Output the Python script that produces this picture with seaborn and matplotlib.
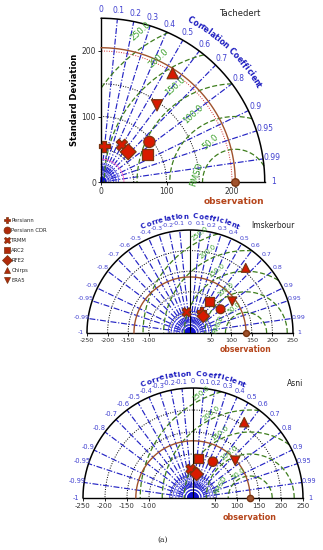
import numpy as np
import pandas as pd
import matplotlib
matplotlib.use('Agg')
import matplotlib.pyplot as plt
import seaborn as sns
from matplotlib.lines import Line2D

sns.set_theme(style='white')
plt.rcParams['font.family'] = ['DejaVu Sans']

W, H = 323, 550

# ---------------- data ----------------
models = ['Persiann', 'Persiann CDR', 'TRMM', 'ARC2', 'RFE2', 'Chirps', 'ERA5']
model_markers = ['P', 'o', 'X', 's', 'D', '^', 'v']

tach_std = [55, 96, 65, 82, 62, 199, 145]
tach_corr = [0.09, 0.77, 0.49, 0.86, 0.67, 0.55, 0.59]
tach_obs = 205

imsk_std = [59, 94, 51, 90, 52, 208, 128]
imsk_corr = [0.47, 0.79, -0.16, 0.53, 0.62, 0.65, 0.80]
imsk_obs = 136

asni_std = [60, 94, 66, 91, 55, 208, 128]
asni_corr = [0.05, 0.48, -0.08, 0.13, 0.15, 0.56, 0.75]
asni_obs = 130

corr_ticks_quarter = [0, 0.1, 0.2, 0.3, 0.4, 0.5, 0.6, 0.7, 0.8, 0.9, 0.95, 0.99, 1]
corr_ticks_half = [-1, -0.99, -0.95, -0.9, -0.8, -0.7, -0.6, -0.5, -0.4, -0.3, -0.2, -0.1,
                   0, 0.1, 0.2, 0.3, 0.4, 0.5, 0.6, 0.7, 0.8, 0.9, 0.95, 0.99, 1]
std_grid = [50, 100, 150, 200]
rmsd_levels = [50, 100, 150, 200, 250]
std_max = 250
xticks_quarter = [0, 100, 200]
xticks_half = [-250, -200, -150, -100, 50, 100, 150, 200, 250]

FILL = '#d81a00'
EDGE = '#7a3510'
BLUE_LINE = '#2424c4'
BLUE_TXT = '#4040d0'
GREEN_LINE = '#3d7d1c'
GREEN_TXT = '#3aa02a'
BROWN = '#a0522d'
OBS_TXT = '#b5451b'

fig = plt.figure(figsize=(W / 100, H / 100), dpi=100)


def P(x, y):
    return x / W, 1 - y / H


def make_ax(origin, scale, rect):
    ox, oy = origin
    x0, y0, x1, y1 = rect
    ax = fig.add_axes([x0 / W, 1 - y1 / H, (x1 - x0) / W, (y1 - y0) / H])
    ax.set_xlim((x0 - ox) / scale, (x1 - ox) / scale)
    ax.set_ylim((oy - y1) / scale, (oy - y0) / scale)
    ax.patch.set_alpha(0)
    ax.grid(False)
    return ax


def curved_text(ax, text, r, a0, a1, fs, color):
    w = np.array([0.5 if c in 'il' else (0.65 if c in 'trf ' else (1.2 if c in 'CmwO' else 1.0))
                  for c in text])
    frac = (np.cumsum(w) - w / 2) / w.sum()
    for c, f in zip(text, frac):
        a = np.deg2rad(a0 + (a1 - a0) * f)
        ax.text(r * np.cos(a), r * np.sin(a), c, rotation=np.rad2deg(a) - 90,
                ha='center', va='center', fontsize=fs, fontweight='bold', color=color,
                rotation_mode='anchor')


def taylor(ax, std, corr, obs, half, fs_corr, fs_tick, msize, rmsd_d, rmsd_a, rmsd_rot,
           fs_rmsd, title_r, title_a, fs_title, blob):
    tmax = np.pi if half else np.pi / 2
    th = np.linspace(0, tmax, 500)
    # std grid arcs
    for r in std_grid:
        col = 'black'
        if (not half) and r == 200:
            col = '#d03030'
        ax.plot(r * np.cos(th), r * np.sin(th), color=col, ls=(0, (1, 1.5)), lw=0.7, zorder=2)
    # outer arc
    ax.plot(std_max * np.cos(th), std_max * np.sin(th), color='black', lw=1.1, zorder=3)
    # observation arc
    ax.plot(obs * np.cos(th), obs * np.sin(th), color=BROWN, lw=1.0, zorder=3)
    # correlation lines
    cl = corr_ticks_half if half else corr_ticks_quarter
    for c in cl:
        if abs(c) == 1:
            continue
        if c == 0:
            if half:
                ax.plot([0, 0], [0, std_max], color='black', lw=0.8, zorder=3)
            continue
        a = np.arccos(c)
        ax.plot([0, std_max * np.cos(a)], [0, std_max * np.sin(a)], color=BLUE_LINE,
                ls=(0, (5, 1.5, 1, 1.5)), lw=0.85, zorder=2)
    # correlation labels
    rl = 266 if half else 263
    for c in cl:
        a = np.arccos(c)
        lab = ('%g' % c)
        ax.text(rl * np.cos(a), rl * np.sin(a), lab, ha='center', va='center',
                fontsize=fs_corr, color=BLUE_TXT)
    # origin blob
    for r in blob[1]:
        ax.plot(r * np.cos(th), r * np.sin(th), color='#2a2ae0', lw=0.5, zorder=2)
    tt = np.concatenate([[0], th, [0]])
    rr = np.concatenate([[0], np.full(th.size, blob[0]), [0]])
    ax.fill(rr * np.cos(tt), rr * np.sin(tt), color='#1010d0', zorder=2)
    # RMSD arcs
    t = np.linspace(0, np.pi, 800)
    for R in rmsd_levels:
        x = obs + R * np.cos(t)
        y = R * np.sin(t)
        m = (np.hypot(x, y) <= std_max) & (x >= (-std_max if half else 0))
        ax.plot(np.where(m, x, np.nan), np.where(m, y, np.nan), color=GREEN_LINE,
                ls=(0, (4, 2)), lw=0.9, zorder=2)
        a = np.deg2rad(rmsd_a)
        ax.text(obs + (R + rmsd_d) * np.cos(a), (R + rmsd_d) * np.sin(a), '%.1f' % R,
                rotation=rmsd_rot, ha='center', va='center', fontsize=fs_rmsd,
                color=GREEN_TXT, zorder=4)
    # observation point
    ax.scatter([obs], [0], s=msize * 0.45, color=BROWN, edgecolor='#7a3510', zorder=6,
               clip_on=False)
    # data points
    corr = np.array(corr)
    std = np.array(std)
    df = pd.DataFrame({'model': models,
                       'x': std * corr,
                       'y': std * np.sin(np.arccos(corr))})
    sns.scatterplot(data=df, x='x', y='y', style='model',
                    markers=dict(zip(models, model_markers)), color=FILL,
                    edgecolor=EDGE, linewidth=0.9, s=msize, legend=False, ax=ax,
                    zorder=7, clip_on=False)
    ax.set_xlabel('')
    ax.set_ylabel('')
    # curved title
    curved_text(ax, 'Correlation Coefficient', title_r, title_a[0], title_a[1], fs_title,
                '#1c1cc0')
    # spines / ticks
    for s in ['top', 'right']:
        ax.spines[s].set_visible(False)
    ax.spines['bottom'].set_position(('data', 0))
    ax.spines['bottom'].set_color('black')
    ax.spines['bottom'].set_linewidth(1.0)
    if half:
        ax.spines['left'].set_visible(False)
        ax.spines['bottom'].set_bounds(-std_max, std_max)
        ax.set_xticks(xticks_half)
        ax.set_xticklabels(['%d' % v for v in xticks_half])
        ax.set_yticks([])
    else:
        ax.spines['left'].set_position(('data', 0))
        ax.spines['left'].set_bounds(0, std_max)
        ax.spines['left'].set_color('black')
        ax.spines['left'].set_linewidth(1.0)
        ax.spines['bottom'].set_bounds(0, std_max)
        ax.set_xticks(xticks_quarter)
        ax.set_yticks(xticks_quarter)
    ax.tick_params(axis='both', which='both', direction='out', length=2, width=0.6,
                   labelsize=fs_tick, labelcolor='#333333', color='black', pad=1.5,
                   bottom=True, left=not half)


# ---------- top panel: Tachedert ----------
ax1 = make_ax((101, 182), 0.655, (0, 0, 323, 206))
taylor(ax1, tach_std, tach_corr, tach_obs, False, fs_corr=5.5, fs_tick=5.5, msize=65,
       rmsd_d=22, rmsd_a=122, rmsd_rot=42, fs_rmsd=6, title_r=282, title_a=(62, 31),
       fs_title=5.6, blob=(7, [11, 15, 19, 23, 27]))
ax1.text(-41, 125, 'Standard Deviation', rotation=90, ha='center', va='center',
         fontsize=6, fontweight='bold', color='black')
ax1.text(146, 11, 'RMSD', rotation=72, ha='center', va='center', fontsize=6,
         color=GREEN_TXT, zorder=4)
ax1.plot(35 * np.cos(np.linspace(0, np.pi / 2, 100)), 35 * np.sin(np.linspace(0, np.pi / 2, 100)),
         color='#ff66cc', lw=0.6, zorder=2)
fig.text(*P(240, 13), 'Tachedert', ha='center', va='center', fontsize=6, color='#222222')
fig.text(*P(234, 201), 'observation', ha='center', va='center', fontsize=6.5,
         fontweight='bold', color=OBS_TXT)

# ---------- middle panel: Imskerbour ----------
ax2 = make_ax((190, 333), 0.412, (0, 206, 323, 362))
taylor(ax2, imsk_std, imsk_corr, imsk_obs, True, fs_corr=4.5, fs_tick=4.6, msize=40,
       rmsd_d=17, rmsd_a=115, rmsd_rot=38, fs_rmsd=4.8, title_r=283, title_a=(115, 65),
       fs_title=5.0, blob=(12, [18, 25, 32, 39, 46, 53]))
ax2.text(68, 20, 'RMSD', rotation=68, ha='center', va='center', fontsize=4.8,
         color=GREEN_TXT, zorder=4)
fig.text(*P(273, 226), 'Imskerbour', ha='center', va='center', fontsize=5.5, color='#222222')
fig.text(*P(246, 349), 'observation', ha='center', va='center', fontsize=5.5,
         fontweight='bold', color=OBS_TXT)

# ---------- bottom panel: Asni ----------
ax3 = make_ax((193, 498), 0.44, (0, 362, 323, 530))
taylor(ax3, asni_std, asni_corr, asni_obs, True, fs_corr=4.8, fs_tick=5.0, msize=45,
       rmsd_d=12, rmsd_a=115, rmsd_rot=38, fs_rmsd=5.0, title_r=282, title_a=(115, 65),
       fs_title=5.3, blob=(12, [18, 25, 32, 39, 46, 53]))
ax3.text(62, 30, 'RMSD', rotation=62, ha='center', va='center', fontsize=5,
         color=GREEN_TXT, zorder=4)
fig.text(*P(295, 383), 'Asni', ha='center', va='center', fontsize=5.5, color='#222222')
fig.text(*P(250, 517), 'observation', ha='center', va='center', fontsize=5.8,
         fontweight='bold', color=OBS_TXT)

# ---------- legend ----------
handles = [Line2D([], [], ls='none', marker=m, markersize=5, markerfacecolor='#b02a0a',
                  markeredgecolor='#7a3510', markeredgewidth=0.5) for m in model_markers]
fig.legend(handles, models, loc='upper left', bbox_to_anchor=P(4, 218), frameon=False,
           fontsize=3.8, handlelength=1.0, handletextpad=0.4, labelspacing=0.95,
           borderpad=0, borderaxespad=0)

fig.text(*P(163, 540), '(a)', ha='center', va='center', fontsize=5.5,
         family=['DejaVu Serif'], color='#222222')

fig.savefig('out.png', dpi=100)
